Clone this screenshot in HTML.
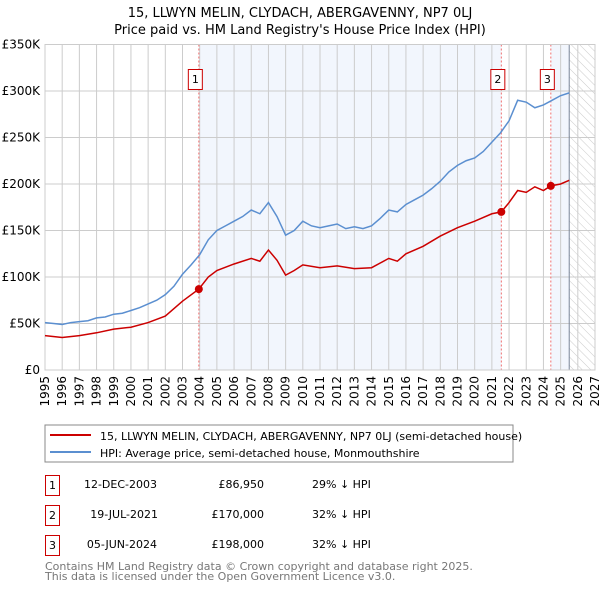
<!DOCTYPE html>
<html><head><meta charset="utf-8"><style>
body{margin:0;background:#fff;font-family:"DejaVu Sans","Liberation Sans",sans-serif;}
svg text{font-family:"DejaVu Sans","Liberation Sans",sans-serif;}
</style></head><body>
<svg id="c" width="600" height="590" xmlns="http://www.w3.org/2000/svg">
<defs><pattern id="hatch" patternUnits="userSpaceOnUse" width="6" height="6" patternTransform="rotate(-45)"><line x1="0" y1="0" x2="0" y2="6" stroke="#ccc" stroke-width="1"/></pattern></defs>
<text x="300" y="17" text-anchor="middle" font-size="13" fill="#000">15, LLWYN MELIN, CLYDACH, ABERGAVENNY, NP7 0LJ</text>
<text x="300" y="34" text-anchor="middle" font-size="13" fill="#000">Price paid vs. HM Land Registry's House Price Index (HPI)</text>
<g id="plot"></g>
<rect x="45" y="425" width="468" height="37" fill="#fff" stroke="#888"/>
<line x1="50" y1="435" x2="91" y2="435" stroke="#cc0000" stroke-width="2"/>
<text x="100" y="440" font-size="11">15, LLWYN MELIN, CLYDACH, ABERGAVENNY, NP7 0LJ (semi-detached house)</text>
<line x1="50" y1="452" x2="91" y2="452" stroke="#5b8fd0" stroke-width="2"/>
<text x="100" y="457" font-size="11">HPI: Average price, semi-detached house, Monmouthshire</text>
<g font-size="11">
<rect x="45.5" y="475.5" width="14" height="20" fill="#fff" stroke="#cc0000"/><text x="52.5" y="489" text-anchor="middle">1</text>
<text x="157" y="488" text-anchor="end">12-DEC-2003</text><text x="264" y="488" text-anchor="end">£86,950</text><text x="312" y="488">29% ↓ HPI</text>
<rect x="45.5" y="505.5" width="14" height="20" fill="#fff" stroke="#cc0000"/><text x="52.5" y="519" text-anchor="middle">2</text>
<text x="158" y="518" text-anchor="end">19-JUL-2021</text><text x="264" y="518" text-anchor="end">£170,000</text><text x="312" y="518">32% ↓ HPI</text>
<rect x="45.5" y="535.5" width="14" height="20" fill="#fff" stroke="#cc0000"/><text x="52.5" y="549" text-anchor="middle">3</text>
<text x="157" y="548" text-anchor="end">05-JUN-2024</text><text x="264" y="548" text-anchor="end">£198,000</text><text x="312" y="548">32% ↓ HPI</text>
</g>
<text x="45" y="570" font-size="11" fill="#777">Contains HM Land Registry data © Crown copyright and database right 2025.</text>
<text x="45" y="580" font-size="11" fill="#777">This data is licensed under the Open Government Licence v3.0.</text>
</svg>
<script>
const hpiYears=[1995,1995.5,1996,1996.5,1997,1997.5,1998,1998.5,1999,1999.5,2000,2000.5,2001,2001.5,2002,2002.5,2003,2003.5,2004,2004.5,2005,2005.5,2006,2006.5,2007,2007.5,2008,2008.5,2009,2009.5,2010,2010.5,2011,2011.5,2012,2012.5,2013,2013.5,2014,2014.5,2015,2015.5,2016,2016.5,2017,2017.5,2018,2018.5,2019,2019.5,2020,2020.5,2021,2021.5,2022,2022.5,2023,2023.5,2024,2024.5,2025,2025.5];
const hpiValues=[51,50,49,51,52,53,56,57,60,61,64,67,71,75,81,90,103,113,124,140,150,155,160,165,172,168,180,165,145,150,160,155,153,155,157,152,154,152,155,163,172,170,178,183,188,195,203,213,220,225,228,235,245,255,268,290,288,282,285,290,295,298];
const priceYears=[1995,1996,1997,1998,1999,2000,2001,2002,2003,2003.95,2004.5,2005,2006,2007,2007.5,2008,2008.5,2009,2009.5,2010,2011,2012,2013,2014,2015,2015.5,2016,2017,2018,2019,2020,2021,2021.55,2022,2022.5,2023,2023.5,2024,2024.43,2025,2025.5];
const priceValues=[37,35,37,40,44,46,51,58,74,87,100,107,114,120,117,129,118,102,107,113,110,112,109,110,120,117,125,133,144,153,160,168,170,180,193,191,197,193,198,200,204];
const saleYears=[2003.95,2021.55,2024.43];
const saleValues=[86.95,170,198];
const saleLabels=["1","2","3"];
const yTicks=[0,50,100,150,200,250,300,350];
const yTickLabels=["£0","£50K","£100K","£150K","£200K","£250K","£300K","£350K"];
const xTicks=[1995,1996,1997,1998,1999,2000,2001,2002,2003,2004,2005,2006,2007,2008,2009,2010,2011,2012,2013,2014,2015,2016,2017,2018,2019,2020,2021,2022,2023,2024,2025,2026,2027];
const dataEnd=2025.5;

const X0=45,X1=595,Y0=370,Y1=44.5,XMIN=1995,XMAX=2027,YMAX=350;
const xs=v=>X0+(v-XMIN)/(XMAX-XMIN)*(X1-X0);
const ys=v=>Y0-v/YMAX*(Y0-Y1);
const NS="http://www.w3.org/2000/svg";
const g=document.getElementById('plot');
function mk(tag,attrs){const e=document.createElementNS(NS,tag);for(const k in attrs)e.setAttribute(k,attrs[k]);g.appendChild(e);return e;}
let e;
e=mk('rect',{x:xs(saleYears[0]),y:Y1,width:xs(saleYears[1])-xs(saleYears[0]),height:Y0-Y1,fill:'#f2f6fd'});


e=mk('rect',{x:xs(saleYears[2]),y:Y1,width:xs(dataEnd)-xs(saleYears[2]),height:Y0-Y1,fill:'#f2f6fd'});


e=mk('rect',{x:xs(dataEnd),y:Y1,width:X1-xs(dataEnd),height:Y0-Y1,fill:'url(#hatch)'});


xTicks.forEach(t=>{
  e=mk('line',{x1:xs(t),x2:xs(t),y1:Y1,y2:Y0,stroke:'#ccc','stroke-width':1});
  
  
  e=mk('text',{x:0,y:0,'font-size':12,'text-anchor':'end',transform:`translate(${xs(t)+4},${Y0+6}) rotate(-90)`});
  e.textContent=t;
  
  
});
yTicks.forEach((t,i)=>{
  e=mk('line',{x1:X0,x2:X1,y1:ys(t),y2:ys(t),stroke:'#ccc','stroke-width':1});
  
  
  e=mk('text',{x:40,y:ys(t)+4,'font-size':12,'text-anchor':'end'});
  e.textContent=yTickLabels[i];
  
  
});
e=mk('line',{x1:xs(dataEnd),x2:xs(dataEnd),y1:Y1,y2:Y0,stroke:'#7a8699','stroke-width':1});


saleYears.forEach((s,i)=>{
  e=mk('line',{x1:xs(s),x2:xs(s),y1:Y1,y2:Y0,stroke:'#f07070','stroke-width':1,'stroke-dasharray':'2,2'});
  
  
});
e=mk('rect',{x:X0,y:Y1,width:X1-X0,height:Y0-Y1,fill:'none',stroke:'#ccc'});


e=mk('polyline',{points:hpiYears.map((y,i)=>xs(y)+','+ys(hpiValues[i])).join(' '),fill:'none',stroke:'#5b8fd0','stroke-width':1.5});


e=mk('polyline',{points:priceYears.map((y,i)=>xs(y)+','+ys(priceValues[i])).join(' '),fill:'none',stroke:'#cc0000','stroke-width':1.5});


saleYears.forEach((s,i)=>{
  e=mk('circle',{cx:xs(s),cy:ys(saleValues[i]),r:4,fill:'#cc0000'});
  
  
  e=mk('rect',{x:xs(s)-10.5,y:69.5,width:14,height:20,fill:'#fff',stroke:'#cc0000'});
  
  
  e=mk('text',{x:xs(s)-3.5,y:83,'font-size':11,'text-anchor':'middle'});
  e.textContent=saleLabels[i];
  
  
});
</script>
</body></html>
